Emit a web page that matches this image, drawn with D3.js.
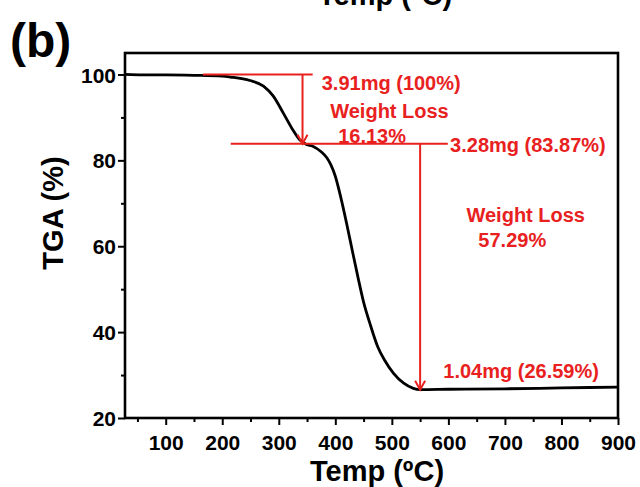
<!DOCTYPE html>
<html><head><meta charset="utf-8">
<script src="https://cdn.jsdelivr.net/npm/d3@7/dist/d3.min.js"></script>
<style>
body{margin:0;background:#fff;}
svg{display:block;font-family:"Liberation Sans",Arial,sans-serif;font-weight:bold;}
</style></head>
<body><svg id="c" width="640" height="487"></svg>
<script>
// ---- data ----
const temps   = [28, 60, 100, 150, 200, 214, 249, 273, 290, 308, 323, 337, 349, 360, 375, 385, 392, 400, 410, 420, 430, 440, 450, 461, 475, 487, 503, 521, 538, 550, 600, 700, 800, 900];
const tga     = [100, 99.9, 99.9, 99.8, 99.6, 99.4, 98.6, 97.3, 95, 91, 87.5, 84.8, 83.7, 83.3, 82.0, 80.6, 79.0, 76.3, 71.2, 65.3, 59.0, 52.8, 47.0, 42.1, 36.6, 33.5, 30.4, 28.1, 26.9, 26.6, 26.7, 26.8, 27.0, 27.2];
const xMajor  = [100, 200, 300, 400, 500, 600, 700, 800, 900];
const xMinor  = [50, 150, 250, 350, 450, 550, 650, 750, 850];
const yMajor  = [20, 40, 60, 80, 100];
const yMinor  = [30, 50, 70, 90];
// annotation guide lines (data units)
const hLines  = [{y:100, x0:166, x1:360}, {y:83.87, x0:215, x1:599}];
const arrows  = [{x:342, y0:100, y1:83.87}, {x:550, y0:83.87, y1:26.59}];
const notes   = [
  {text:"3.91mg (100%)",  x:376, y:96.4},
  {text:"Weight Loss",    x:391, y:89.8},
  {text:"16.13%",         x:405, y:84.0},
  {text:"3.28mg (83.87%)",x:603, y:82.0},
  {text:"Weight Loss",    x:632, y:65.7},
  {text:"57.29%",         x:653, y:59.9},
  {text:"1.04mg (26.59%)",x:591, y:29.25}
];

const W=640,H=487, m={l:125,r:22,t:53,b:69};
const svg=d3.select("#c");
const x=d3.scaleLinear().domain([28,900]).range([m.l,W-m.r]);
const y=d3.scaleLinear().domain([20,105]).range([H-m.b,m.t]);
const red="#e8211e";

// panel label and cut title from previous panel
svg.append("text").attr("x",385).attr("y",5).attr("text-anchor","middle").attr("font-size",29).text("Temp (ºC)");
svg.append("text").attr("x",10).attr("y",57).attr("font-size",48).text("(b)");

// curve
const line=d3.line().x((d,i)=>x(temps[i])).y(d=>y(d)).curve(d3.curveMonotoneX);
svg.append("path").datum(tga).attr("d",line).attr("fill","none").attr("stroke","#000").attr("stroke-width",2.8).attr("stroke-linejoin","round");

// annotations
const ga=svg.append("g").attr("stroke",red).attr("stroke-width",2).attr("fill","none");
hLines.forEach(h=>ga.append("line").attr("x1",x(h.x0)).attr("x2",x(h.x1)).attr("y1",y(h.y)).attr("y2",y(h.y)));
arrows.forEach(a=>{
  const ax=x(a.x), y0=y(a.y0), y1=y(a.y1);
  ga.append("line").attr("x1",ax).attr("x2",ax).attr("y1",y0).attr("y2",y1);
  ga.append("path").attr("d",`M${ax-5},${y1-9}L${ax},${y1}L${ax+5},${y1-9}`);
});
svg.append("g").selectAll("text").data(notes).join("text")
  .attr("x",d=>x(d.x)).attr("y",d=>y(d.y)).attr("fill",red).attr("font-size",20).text(d=>d.text);

// axes
const gx=svg.append("g").attr("transform",`translate(0,${H-m.b})`);
gx.call(d3.axisBottom(x).tickValues(xMajor).tickSize(7).tickSizeOuter(0));
const gxm=svg.append("g").attr("transform",`translate(0,${H-m.b})`);
gxm.call(d3.axisBottom(x).tickValues(xMinor).tickSize(4).tickFormat("").tickSizeOuter(0));
const gy=svg.append("g").attr("transform",`translate(${m.l},0)`);
gy.call(d3.axisLeft(y).tickValues(yMajor).tickSize(7).tickSizeOuter(0));
const gym=svg.append("g").attr("transform",`translate(${m.l},0)`);
gym.call(d3.axisLeft(y).tickValues(yMinor).tickSize(4).tickFormat("").tickSizeOuter(0));
[gx,gxm,gy,gym].forEach(g=>{g.select(".domain").remove();g.selectAll("line").attr("stroke","#000").attr("stroke-width",2);});
gx.selectAll("text").attr("font-size",21).attr("font-family","inherit").attr("font-weight","bold").attr("fill","#000").attr("dy","0.71em").attr("y",17);
gy.selectAll("text").attr("font-size",21).attr("font-family","inherit").attr("font-weight","bold").attr("fill","#000").attr("x",-9).attr("dy","0.36em");

// frame
svg.append("rect").attr("x",m.l).attr("y",m.t).attr("width",W-m.l-m.r).attr("height",H-m.t-m.b)
  .attr("fill","none").attr("stroke","#000").attr("stroke-width",2.6);

// axis titles
svg.append("text").attr("x",377).attr("y",481).attr("text-anchor","middle").attr("font-size",29).text("Temp (ºC)");
svg.append("text").attr("transform","translate(63,213) rotate(-90)").attr("text-anchor","middle").attr("font-size",29).text("TGA (%)");
</script></body></html>
